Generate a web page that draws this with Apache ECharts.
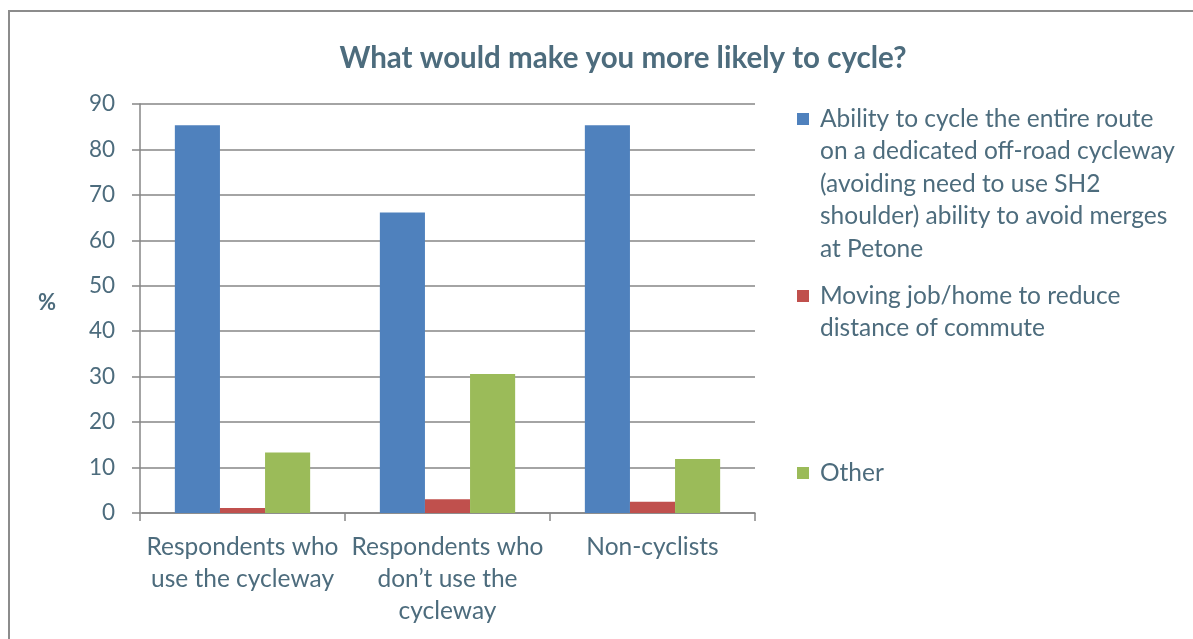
<!DOCTYPE html>
<html>
<head>
<meta charset="utf-8">
<script src="https://cdn.jsdelivr.net/npm/echarts@6/dist/echarts.min.js"></script>
<style>
  html, body { margin: 0; padding: 0; background: #fff; }
  #chart { width: 1193px; height: 639px; }
</style>
</head>
<body>
<div id="chart"></div>
<script>
// Survey groups (x axis)
const categories = [
  'Respondents who\nuse the cycleway',
  'Respondents who\ndon\u2019t use the\ncycleway',
  'Non-cyclists'
];

// Series names and their wrapped legend text
const seriesNames = [
  'Ability to cycle the entire route on a dedicated off-road cycleway (avoiding need to use SH2 shoulder) ability to avoid merges at Petone',
  'Moving job/home to reduce distance of commute',
  'Other'
];
const legendLines = [
  ['Ability to cycle the entire route', 'on a dedicated off-road cycleway', '(avoiding need to use SH2', 'shoulder) ability to avoid merges', 'at Petone'],
  ['Moving job/home to reduce', 'distance of commute'],
  ['Other']
];

// Percentages per group
const dedicatedCycleway = [85.3, 66.1, 85.3];
const movingJobHome = [1.1, 3.0, 2.5];
const other = [13.3, 30.6, 11.9];

// Y axis ticks
const yMin = 0, yMax = 90, yStep = 10;

const TEXT = '#4d6c7d';
const GRID = '#868686';
const FONT = 'Lato, "Open Sans", sans-serif';
const colors = ['#4F81BD', '#C0504D', '#9BBB59'];
const LINE_H = 32.5;
const SWATCH = 12;
const ICON_W = 18; // swatch plus the gap before the legend text

// Each legend block is as tall as its text, with the swatch placed beside the first line
const legendIconY = [119, 296, 473];
const legends = seriesNames.map((name, i) => {
  const h = legendLines[i].length * LINE_H;
  const y0 = LINE_H / 2 - SWATCH / 2;
  const icon = `path://M0,${y0}h${SWATCH}v${SWATCH}h-${SWATCH}z M${ICON_W},0L${ICON_W},0 M${ICON_W},${h}L${ICON_W},${h}`;
  return {
    data: [{ name, icon }],
    left: 797,
    top: legendIconY[i] - LINE_H / 2,
    padding: 0,
    itemWidth: ICON_W,
    itemHeight: h,
    selectedMode: false,
    formatter: () => legendLines[i].join('\n'),
    textStyle: { color: TEXT, fontSize: 24.5, fontFamily: FONT, lineHeight: LINE_H }
  };
});

const chart = echarts.init(document.getElementById('chart'));
chart.setOption({
  animation: false,
  backgroundColor: '#fff',
  title: {
    text: 'What would make you more likely to cycle?',
    left: 618, top: 38, textAlign: 'center',
    textStyle: { color: TEXT, fontSize: 29.5, fontWeight: 'bold', fontFamily: FONT }
  },
  legend: legends,
  grid: { left: 140, right: 438, top: 104, bottom: 126, containLabel: false },
  xAxis: {
    type: 'category',
    data: categories,
    axisLine: { lineStyle: { color: GRID, width: 1.5 } },
    axisTick: { show: true, length: 8, lineStyle: { color: GRID, width: 1.5 } },
    axisLabel: {
      color: TEXT, fontSize: 24.5, fontFamily: FONT, lineHeight: 32, margin: 18, interval: 0
    }
  },
  yAxis: {
    type: 'value',
    min: yMin, max: yMax, interval: yStep,
    name: '{p|%}',
    nameLocation: 'middle',
    nameRotate: 0,
    nameGap: 84,
    nameTextStyle: {
      rich: { p: { color: TEXT, fontSize: 22, fontWeight: 'bold', fontFamily: FONT, padding: [0, 0, 11, 0] } }
    },
    axisLine: { show: true, lineStyle: { color: GRID, width: 1.5 } },
    axisTick: { show: true, length: 8, lineStyle: { color: GRID, width: 1.5 } },
    axisLabel: { color: TEXT, fontSize: 22.5, fontFamily: FONT, margin: 25 },
    splitLine: { lineStyle: { color: GRID, width: 1.5 } }
  },
  series: [dedicatedCycleway, movingJobHome, other].map((vals, i) => ({
    name: seriesNames[i],
    type: 'bar',
    data: vals,
    barGap: '0%',
    barCategoryGap: '34%',
    itemStyle: { color: colors[i] }
  })),
  graphic: [
    { type: 'line', shape: { x1: 8, y1: 11, x2: 1193, y2: 11 }, style: { stroke: '#8c8c8c', lineWidth: 2 } },
    { type: 'line', shape: { x1: 9, y1: 10, x2: 9, y2: 639 }, style: { stroke: '#8c8c8c', lineWidth: 2 } }
  ]
});
</script>
</body>
</html>
